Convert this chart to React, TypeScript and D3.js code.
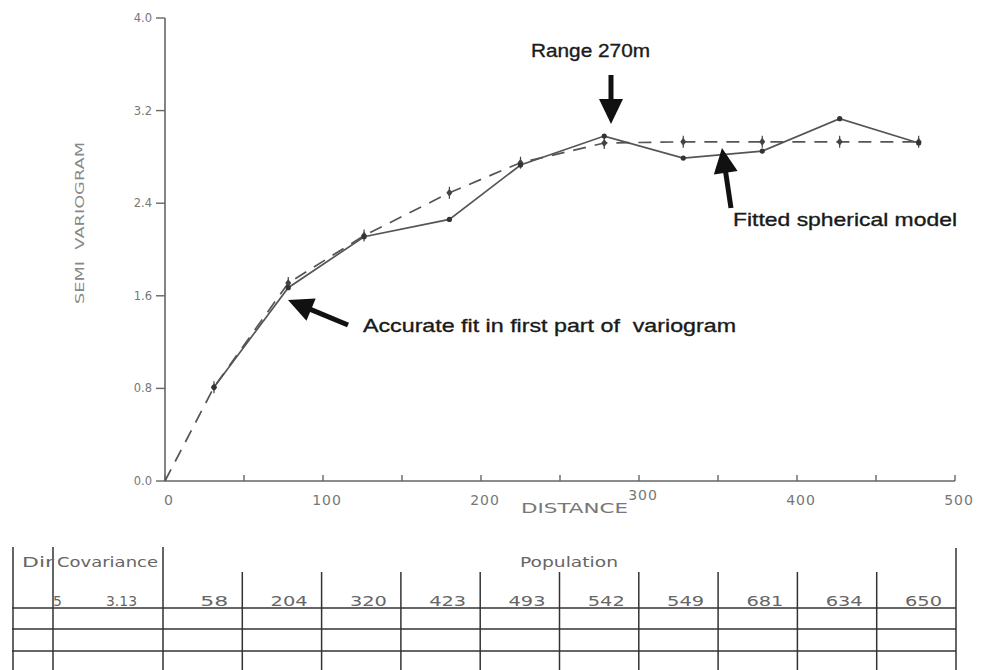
import * as d3 from 'd3';
import React from 'react';

const width = 991;
const height = 670;

// lag distances (m) and values
const lagDistance = [31, 78, 126, 180, 225, 278, 328, 378, 427, 477];
const experimental = [0.81, 1.67, 2.11, 2.26, 2.73, 2.98, 2.79, 2.85, 3.13, 2.92];
const modelDistance = [0, 31, 78, 126, 180, 225, 278, 328, 378, 427, 477];
const modelValue = [0, 0.81, 1.71, 2.12, 2.49, 2.75, 2.92, 2.93, 2.93, 2.93, 2.93];

const yTicks = [0, 0.8, 1.6, 2.4, 3.2, 4.0];
const xLabels = [0, 100, 200, 300, 400, 500];

const population = [58, 204, 320, 423, 493, 542, 549, 681, 634, 650];
const dirValue = '5';
const covarianceValue = '3.13';

const x = d3.scaleLinear().domain([0, 500]).range([165, 955]);
const y = d3.scaleLinear().domain([0, 4]).range([481, 18]);

const plotFont = '"DejaVu Sans", sans-serif';
const noteFont = '"Liberation Sans", Arial, sans-serif';

function Arrow({ x1, y1, x2, y2 }: { x1: number; y1: number; x2: number; y2: number }) {
  // tail (x1,y1) -> tip (x2,y2)
  const len = Math.hypot(x2 - x1, y2 - y1);
  const ux = (x2 - x1) / len;
  const uy = (y2 - y1) / len;
  const headLen = 25;
  const headW = 12;
  const bx = x2 - ux * headLen;
  const by = y2 - uy * headLen;
  const pts = [
    [x2, y2],
    [bx - uy * headW, by + ux * headW],
    [bx + uy * headW, by - ux * headW],
  ];
  return (
    <g>
      <line x1={x1} y1={y1} x2={bx + ux * 2} y2={by + uy * 2} stroke="#111" strokeWidth={5} />
      <polygon points={pts.map((p) => p.join(',')).join(' ')} fill="#111" />
    </g>
  );
}

function Note({ x0, y0, w, children }: { x0: number; y0: number; w: number; children: string }) {
  return (
    <text
      x={x0}
      y={y0}
      fontFamily={noteFont}
      fontSize={19}
      fill="#1a1a1a"
      stroke="#1a1a1a"
      strokeWidth={0.35}
      textLength={w}
      lengthAdjust="spacingAndGlyphs"
      style={{ whiteSpace: 'pre' }}
    >
      {children}
    </text>
  );
}

export default function App() {
  const solidLine = d3
    .line<number>()
    .x((_, i) => x(lagDistance[i]))
    .y((d) => y(d));
  const modelLine = d3
    .line<number>()
    .x((_, i) => x(modelDistance[i]))
    .y((d) => y(d));

  // table geometry
  const tLeft = 13;
  const tRight = 956;
  const colDir = 53;
  const colPop = 163;
  const popX = d3.scaleLinear().domain([0, population.length]).range([colPop, tRight]);
  const rowLines = [608, 629, 651];

  return (
    <svg
      width={width}
      height={height}
      style={{ position: 'absolute', left: 0, top: 0, background: '#fff' }}
    >
      {/* axes */}
      <line x1={x(0)} y1={y(4)} x2={x(0)} y2={y(0)} stroke="#666" strokeWidth={1.6} />
      <line x1={x(0)} y1={y(0)} x2={x(500)} y2={y(0)} stroke="#666" strokeWidth={1.6} />
      {yTicks.map((t) => (
        <g key={t}>
          <line x1={x(0) - 9} x2={x(0)} y1={y(t)} y2={y(t)} stroke="#666" strokeWidth={1.4} />
          <text
            x={x(0) - 13}
            y={y(t) + 4}
            textAnchor="end"
            fontFamily={plotFont}
            fontSize={11.5}
            fill="#777"
          >
            {t.toFixed(1)}
          </text>
        </g>
      ))}
      {x.ticks(10).map((t) => (
        <line key={t} x1={x(t)} x2={x(t)} y1={y(0)} y2={y(0) - 6} stroke="#666" strokeWidth={1.4} />
      ))}
      {xLabels.map((t) => (
        <text
          key={t}
          x={x(t) + 4}
          y={t === 300 ? 500 : 505}
          textAnchor="middle"
          fontFamily={plotFont}
          fontSize={14}
          letterSpacing={1}
          fill="#777"
        >
          {t}
        </text>
      ))}
      <text
        x={521}
        y={513}
        fontFamily={plotFont}
        fontSize={14}
        textLength={107}
        lengthAdjust="spacingAndGlyphs"
        fill="#777"
      >
        DISTANCE
      </text>
      <text
        transform="translate(84,304) rotate(-90)"
        fontFamily={plotFont}
        fontSize={13}
        textLength={162}
        lengthAdjust="spacingAndGlyphs"
        fill="#888"
        style={{ whiteSpace: 'pre' }}
      >
        SEMI  VARIOGRAM
      </text>

      {/* fitted model (dashed) and experimental variogram (solid) */}
      <path
        d={modelLine(modelValue) ?? ''}
        fill="none"
        stroke="#555"
        strokeWidth={1.7}
        strokeDasharray="13 9"
      />
      <path d={solidLine(experimental) ?? ''} fill="none" stroke="#555" strokeWidth={1.7} />
      {modelValue.slice(1).map((v, i) => {
        const cx = x(modelDistance[i + 1]);
        const cy = y(v);
        return (
          <g key={'m' + i}>
            <path
              d={`M${cx},${cy - 4}L${cx + 3},${cy}L${cx},${cy + 4}L${cx - 3},${cy}Z`}
              fill="#444"
            />
            <line x1={cx} x2={cx} y1={cy - 6} y2={cy + 6} stroke="#444" strokeWidth={1.2} />
          </g>
        );
      })}
      {experimental.map((v, i) => (
        <circle key={'e' + i} cx={x(lagDistance[i])} cy={y(v)} r={2.6} fill="#333" />
      ))}

      {/* annotations */}
      <Note x0={531} y0={57} w={119}>
        Range 270m
      </Note>
      <Arrow x1={611} y1={75} x2={611} y2={124} />
      <Note x0={733} y0={226} w={224}>
        Fitted spherical model
      </Note>
      <Arrow x1={731} y1={208} x2={722} y2={148} />
      <Note x0={363} y0={332} w={373}>
        Accurate fit in first part of  variogram
      </Note>
      <Arrow x1={348} y1={325} x2={288} y2={300} />

      {/* table */}
      <g stroke="#333" strokeWidth={1.5}>
        <line x1={tLeft} x2={tLeft} y1={547} y2={height} />
        <line x1={colDir} x2={colDir} y1={547} y2={height} />
        <line x1={colPop} x2={colPop} y1={547} y2={height} />
        <line x1={tRight} x2={tRight} y1={548} y2={height} />
        {population.slice(1).map((_, i) => (
          <line key={i} x1={popX(i + 1)} x2={popX(i + 1)} y1={572} y2={height} />
        ))}
        {rowLines.map((ry) => (
          <line key={ry} x1={tLeft - 1} x2={tRight} y1={ry} y2={ry} />
        ))}
      </g>
      <g fontFamily={plotFont} fill="#666">
        <text x={22} y={567} fontSize={14} textLength={32} lengthAdjust="spacingAndGlyphs">
          Dir
        </text>
        <text x={57} y={567} fontSize={14} textLength={101} lengthAdjust="spacingAndGlyphs">
          Covariance
        </text>
        <text x={520} y={567} fontSize={14} textLength={98} lengthAdjust="spacingAndGlyphs">
          Population
        </text>
        <text x={53} y={606} fontSize={14}>
          {dirValue}
        </text>
        <text x={106} y={606} fontSize={14} textLength={31} lengthAdjust="spacingAndGlyphs">
          {covarianceValue}
        </text>
        {population.map((p, i) => {
          const s = String(p);
          const w = s.length === 3 ? 37 : 28;
          return (
            <text
              key={i}
              x={popX(i + 1) - 14 - w}
              y={606}
              fontSize={14}
              textLength={w}
              lengthAdjust="spacingAndGlyphs"
            >
              {s}
            </text>
          );
        })}
      </g>
    </svg>
  );
}
